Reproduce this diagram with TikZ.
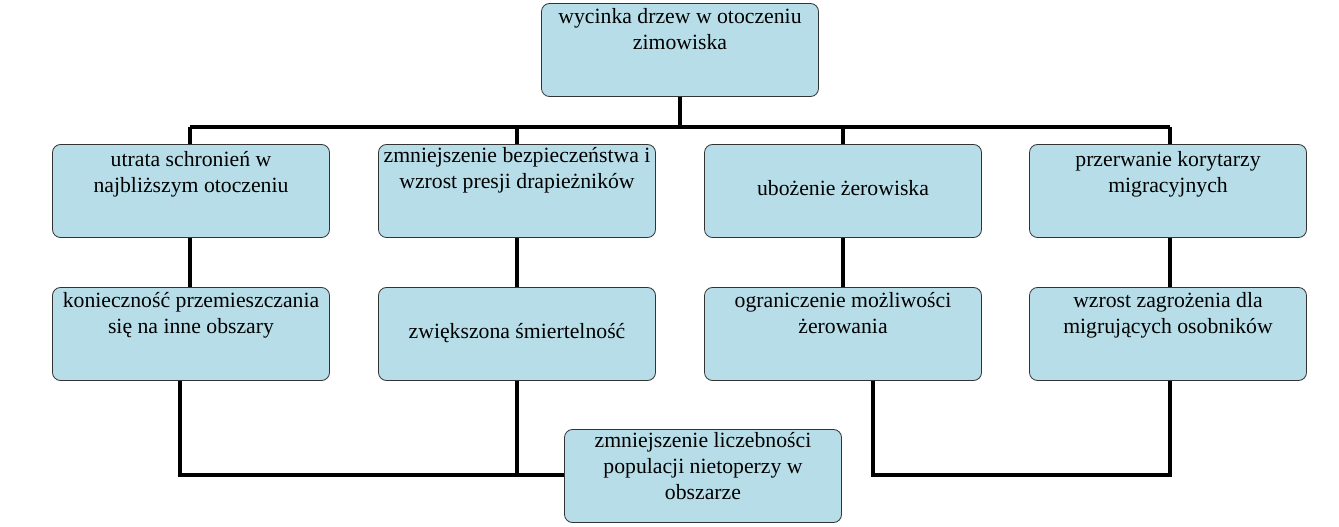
\documentclass[tikz,border=0pt]{standalone}
\usepackage{fontspec}
\setmainfont{Liberation Serif}
\usetikzlibrary{positioning}
\tikzset{
  box/.style={draw=black!80, fill=boxfill, rounded corners=6pt, minimum width=277*0.75pt, minimum height=93*0.75pt, line width=0.6pt},
  lbl/.style={anchor=north, align=center, font=\fontsize{16.3}{19.5}\selectfont, inner sep=0pt},
  link/.style={line width=3pt}
}
\definecolor{boxfill}{HTML}{B7DEE8}
\begin{document}
\begin{tikzpicture}[x=0.75pt, y=-0.75pt]
  \useasboundingbox (0,0) rectangle (1339,527);
  % links (drawn first, under boxes)
  \coordinate (hl) at (190,127);
  \coordinate (hr) at (1170,127);
  \coordinate (bl) at (180,475);
  \coordinate (br) at (1170,475);
  \draw[link] (680,50) -- (680,127);
  \draw[link] (hl) -- (hr);
  \foreach \x in {190,517,843,1170} {
    \draw[link] (\x,127) -- (\x,334);
  }
  \draw[link] (180,334) -- (bl) -- (600,475);
  \draw[link] (517,334) -- (517,475);
  \draw[link] (873,334) -- (873,475) -- (br) -- (1170,334);
  % top
  \node[box] (top) at (680,50) {};
  \node[lbl] at ([yshift=-4]top.north) {wycinka drzew w otoczeniu\\zimowiska};
  % first row
  \node[box] (a1) at (191,191) {};
  \node[box] (a2) at (517,191) {};
  \node[box] (a3) at (843,191) {};
  \node[box] (a4) at (1168,191) {};
  \node[lbl] at ([yshift=-5]a1.north) {utrata schronień w\\najbliższym otoczeniu};
  \node[lbl] at ([yshift=-2]a2.north) {zmniejszenie bezpieczeństwa i\\wzrost presji drapieżników};
  \node[lbl] at ([yshift=-27]a3.north) {ubożenie żerowiska};
  \node[lbl] at ([yshift=-5]a4.north) {przerwanie korytarzy\\migracyjnych};
  % second row
  \node[box] (b1) at (191,334) {};
  \node[box] (b2) at (517,334) {};
  \node[box] (b3) at (843,334) {};
  \node[box] (b4) at (1168,334) {};
  \node[lbl] at ([yshift=-4]b1.north) {konieczność przemieszczania\\się na inne obszary};
  \node[lbl] at ([yshift=-27]b2.north) {zwiększona śmiertelność};
  \node[lbl] at ([yshift=-4]b3.north) {ograniczenie możliwości\\żerowania};
  \node[lbl] at ([yshift=-4]b4.north) {wzrost zagrożenia dla\\migrujących osobników};
  % bottom
  \node[box] (res) at (703,476) {};
  \node[lbl] at ([yshift=-2]res.north) {zmniejszenie liczebności\\populacji nietoperzy w\\obszarze};
\end{tikzpicture}
\end{document}
